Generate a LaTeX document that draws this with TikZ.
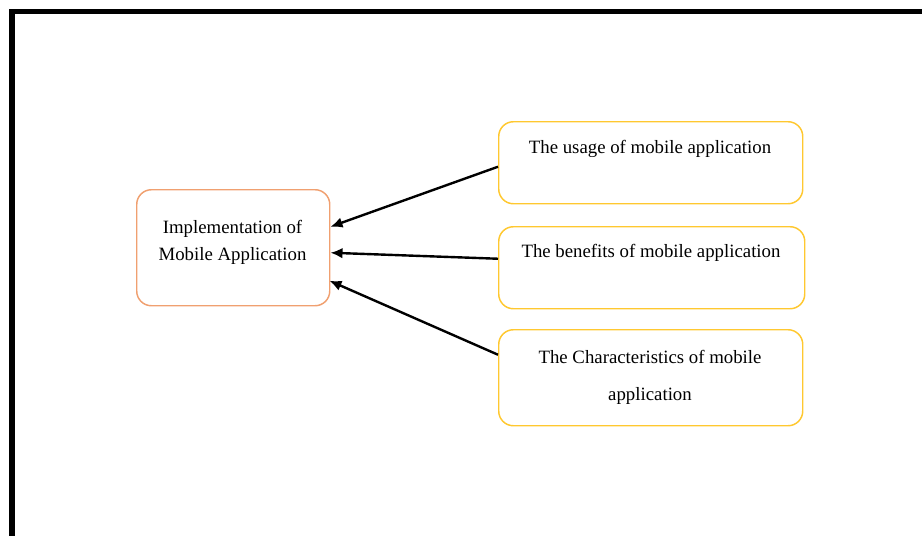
\documentclass[tikz,border=0pt]{standalone}
\usepackage{fontspec}
\setmainfont{Liberation Serif}
\usetikzlibrary{arrows.meta,calc}
\definecolor{boxorange}{HTML}{F0A070}
\definecolor{boxyellow}{HTML}{FFC830}
\begin{document}
\begin{tikzpicture}[x=0.75pt,y=-0.75pt,
  box/.style={draw, rounded corners=11pt, line width=1.1pt, inner sep=0pt, anchor=north west},
  lbl/.style={font=\fontsize{14.1}{20.25}\selectfont, inner sep=0pt, align=center},
  arr/.style={-{Latex[length=9pt,width=8pt]}, line width=1.8pt}]
\useasboundingbox (0,0) rectangle (922,536);
\begin{scope}
\clip (0,0) rectangle (922,536);
\draw[line width=4.2pt] (12,545) -- (12,11.5) -- (930,11.5);
\end{scope}
\node[box, draw=boxorange, minimum width=144.75pt, minimum height=87pt] (impl) at (136,189) {};
\node[box, draw=boxyellow, minimum width=228pt, minimum height=61.5pt] (b1) at (498,121) {};
\node[box, draw=boxyellow, minimum width=229.5pt, minimum height=61.5pt] (b2) at (498,226) {};
\node[box, draw=boxyellow, minimum width=228pt, minimum height=72pt] (b3) at (498,329) {};
\node[lbl] (timpl) at (232.5,242) {Implementation of\\Mobile Application};
\node[lbl] (t1) at (650,148.5) {The usage of mobile application};
\node[lbl] (t2) at (651,252.5) {The benefits of mobile application};
\node[lbl, font=\fontsize{14.1}{27.75}\selectfont] (t3) at (650,377) {The Characteristics of mobile\\application};
\draw[arr] ($(b1.west)+(0,4)$) -- ($(impl.east)+(0,-21)$);
\draw[arr] ($(b2.west)+(0,-9)$) -- ($(impl.east)+(0,5)$);
\draw[arr] ($(b3.west)+(0,-23)$) -- ($(impl.east)+(-1,33)$);
\end{tikzpicture}
\end{document}
